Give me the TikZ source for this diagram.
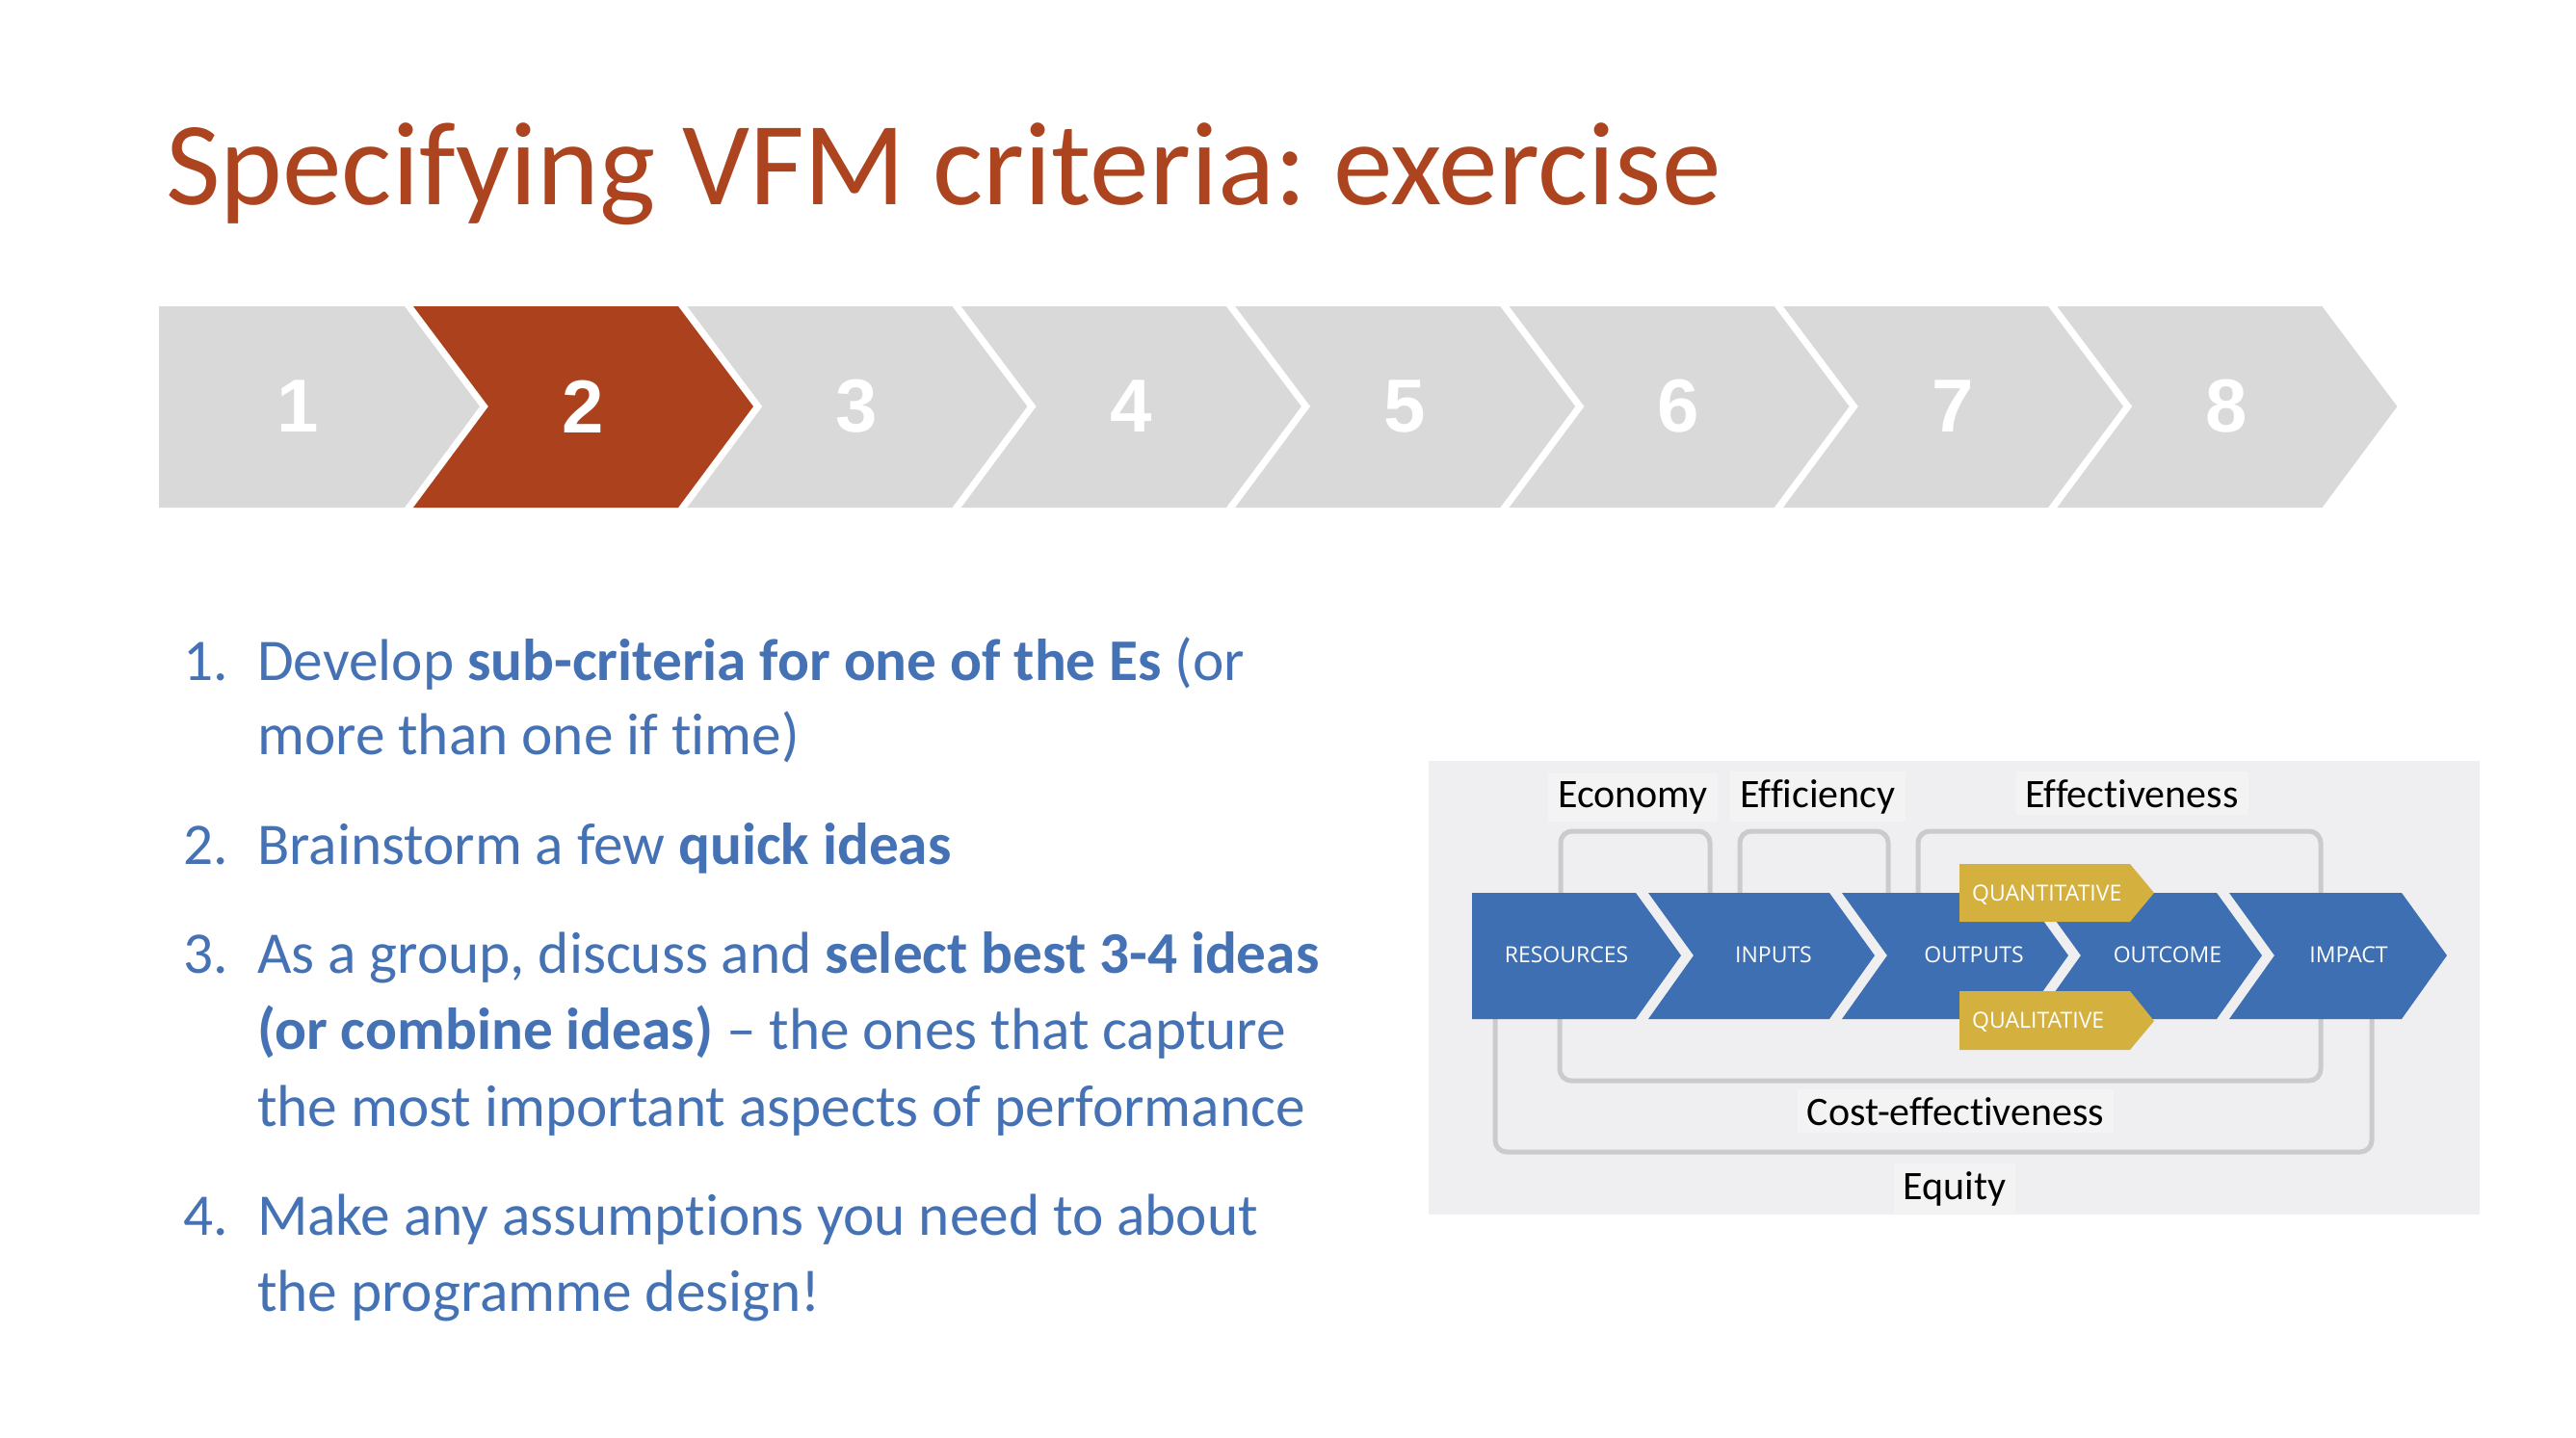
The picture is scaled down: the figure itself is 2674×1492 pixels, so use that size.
\documentclass[tikz,border=0pt]{standalone}
\usepackage{fontspec}
\setmainfont{Carlito}[Ligatures={NoCommon,NoContextual}]
\newfontfamily\arialfont{Liberation Sans}
\newfontfamily\opensans{Open Sans}
\frenchspacing
\definecolor{titlered}{HTML}{AC4420}
\definecolor{stepred}{HTML}{AB421D}
\definecolor{stepgrey}{HTML}{D9D9D9}
\definecolor{listblue}{HTML}{4472B4}
\definecolor{diagblue}{HTML}{3D6FB2}
\definecolor{gold}{HTML}{D4B13F}
\definecolor{panelbg}{HTML}{EFEFF1}
\definecolor{labelbg}{HTML}{F3F3F4}
\definecolor{bracketgrey}{HTML}{CACBCD}
\tikzset{
  titletext/.style={anchor=base west, inner sep=0pt, text=titlered, font=\fontsize{123.3}{140}\selectfont},
  listtext/.style={anchor=base west, inner sep=0pt, text=listblue, font=\fontsize{61.3}{73}\selectfont},
  bignum/.style={inner sep=0pt, text=white, font=\arialfont\bfseries\fontsize{78}{90}\selectfont},
  greystep/.style={fill=stepgrey},
  redstep/.style={fill=stepred},
  stagebox/.style={fill=diagblue},
  goldbox/.style={fill=gold},
  stagelabel/.style={anchor=base, inner sep=0pt, text=white, font=\opensans\fontsize{23}{28}\selectfont},
  goldlabel/.style={anchor=base west, inner sep=0pt, text=white, font=\opensans\fontsize{23}{28}\selectfont},
  bracket/.style={draw=bracketgrey, line width=5pt, rounded corners=12pt},
  elabel/.style={anchor=base, text=black, fill=labelbg, inner xsep=10pt, inner ysep=8pt, font=\fontsize{42}{50}\selectfont},
}
\begin{document}
\begin{tikzpicture}[x=1pt,y=-1pt]
\useasboundingbox (0,0) rectangle (2674,1492);
\fill[white] (0,0) rectangle (2674,1492);

% title
\node[titletext] (title) at (172,212) {Specifying VFM criteria: exercise};

% step chevrons
\fill[greystep] (165,318) -- (420,318) -- (498,422) -- (420,527) -- (165,527) -- cycle;
\foreach \k/\st in {2/redstep,3/greystep,4/greystep,5/greystep,6/greystep,7/greystep,8/greystep}{
  \pgfmathsetmacro{\a}{429+284.4*(\k-2)}
  \fill[\st] (\a,318) -- (\a+275,318) -- (\a+353,422) -- (\a+275,527) -- (\a,527) -- (\a+78,422) -- cycle;
}
\node[bignum] (n1) at (309,422) {1};
\foreach \k in {2,...,8}{
  \pgfmathsetmacro{\c}{429+284.4*(\k-2)+176}
  \node[bignum] (n\k) at (\c,422) {\k};
}

% list
\node[listtext] (l1n) at (190,706) {1.};
\node[listtext] (l1a) at (267,706) {Develop \textbf{sub-criteria for one of the Es} (or};
\node[listtext] (l1b) at (267,783) {more than one if time)};
\node[listtext] (l2n) at (190,897) {2.};
\node[listtext] (l2a) at (267,897) {Brainstorm a few \textbf{quick ideas}};
\node[listtext] (l3n) at (190,1010) {3.};
\node[listtext] (l3a) at (267,1010) {As a group, discuss and \textbf{select best 3-4 ideas}};
\node[listtext] (l3b) at (267,1089) {\textbf{(or combine ideas)} -- the ones that capture};
\node[listtext] (l3c) at (267,1169) {the most important aspects of performance};
\node[listtext] (l4n) at (190,1282) {4.};
\node[listtext] (l4a) at (267,1282) {Make any assumptions you need to about};
\node[listtext] (l4b) at (267,1361) {the programme design!};

% diagram panel
\fill[panelbg] (1483,790) rectangle (2574,1261);
\node[elabel] (economy) at (1695,838) {Economy};
\node[elabel] (efficiency) at (1887,838) {Efficiency};
\node[elabel] (effect) at (2213,838) {Effectiveness};
\node[elabel] (equity) at (2029,1245) {Equity};

% brackets
\draw[bracket] (1620,990) -- (1620,863) -- (1775,863) -- (1775,990);
\draw[bracket] (1806,990) -- (1806,863) -- (1960,863) -- (1960,990);
\draw[bracket] (1991,990) -- (1991,863) -- (2409,863) -- (2409,990);
\draw[bracket] (1552,990) -- (1552,1196) -- (2462,1196) -- (2462,990);
\draw[bracket] (1619,990) -- (1619,1122) -- (2409,1122) -- (2409,990);
\node[elabel] (costeff) at (2030,1168) {Cost-effectiveness};

% stage chevrons
\fill[stagebox] (1528,927) -- (1698,927) -- (1745,992) -- (1698,1058) -- (1528,1058) -- cycle;
\foreach \a/\b in {1711/1899,1912/2100,2113/2301,2314/2493}{
  \fill[stagebox] (\a,927) -- (\b,927) -- (\b+47,992) -- (\b,1058) -- (\a,1058) -- (\a+47,992) -- cycle;
}
\node[stagelabel] (resources) at (1626,999) {RESOURCES};
\node[stagelabel] (inputs) at (1841,999) {INPUTS};
\node[stagelabel] (outputs) at (2049,999) {OUTPUTS};
\node[stagelabel] (outcome) at (2250,999) {OUTCOME};
\node[stagelabel] (impact) at (2438,999) {IMPACT};

% gold boxes
\fill[goldbox] (2034,897) -- (2211,897) -- (2236,927) -- (2211,957) -- (2034,957) -- cycle;
\fill[goldbox] (2034,1029) -- (2211,1029) -- (2236,1060) -- (2211,1090) -- (2034,1090) -- cycle;
\node[goldlabel] (quant) at (2047,935) {QUANTITATIVE};
\node[goldlabel] (qual) at (2047,1067) {QUALITATIVE};
\end{tikzpicture}
\end{document}
